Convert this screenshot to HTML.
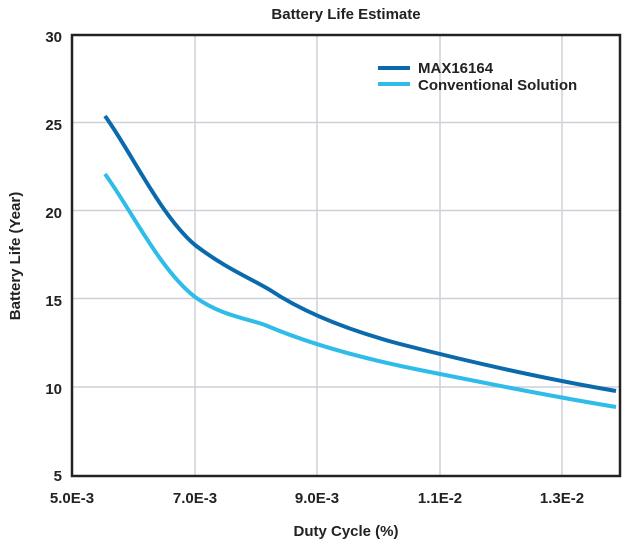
<!DOCTYPE html>
<html><head><style>body{margin:0;background:#fff}svg{display:block}text{font-family:"Liberation Sans",sans-serif;font-weight:bold;fill:#222}</style></head>
<body>
<svg width="628" height="545" viewBox="0 0 628 545">
<text x="346" y="19" font-size="15" text-anchor="middle">Battery Life Estimate</text>
<g stroke="#cfd0d8" stroke-width="1.5">
<line x1="195" y1="35" x2="195" y2="476"/><line x1="317" y1="35" x2="317" y2="476"/><line x1="440" y1="35" x2="440" y2="476"/><line x1="562" y1="35" x2="562" y2="476"/>
<line x1="72" y1="122.5" x2="620" y2="122.5"/><line x1="72" y1="210.5" x2="620" y2="210.5"/><line x1="72" y1="298.5" x2="620" y2="298.5"/><line x1="72" y1="387" x2="620" y2="387"/>
</g>
<rect x="72" y="35" width="548" height="441" fill="none" stroke="#222" stroke-width="2.5"/>
<g font-size="15" text-anchor="end">
<text x="62" y="42">30</text><text x="62" y="130">25</text><text x="62" y="218">20</text><text x="62" y="306">15</text><text x="62" y="394">10</text><text x="62" y="481">5</text>
</g>
<g font-size="15" text-anchor="middle">
<text x="72" y="503">5.0E-3</text><text x="195" y="503">7.0E-3</text><text x="317" y="503">9.0E-3</text><text x="440" y="503">1.1E-2</text><text x="562" y="503">1.3E-2</text>
</g>
<text x="346" y="536" font-size="15" text-anchor="middle">Duty Cycle (%)</text>
<text transform="translate(20,256) rotate(-90)" font-size="15" text-anchor="middle">Battery Life (Year)</text>
<path d="M105,116 C130,150 160,215 195,245 C225,268 250,278 270,290 C300,310 340,328 400,344 C470,362 540,378 616,391" fill="none" stroke="#0a6aab" stroke-width="4"/>
<path d="M105,174 C130,208 160,270 195,297 C220,315 245,318 265,325 C300,340 350,356 420,370 C490,384 550,396 616,407" fill="none" stroke="#2fbce9" stroke-width="4"/>
<line x1="378" y1="68" x2="410" y2="68" stroke="#0a6aab" stroke-width="4"/>
<line x1="378" y1="84" x2="410" y2="84" stroke="#2fbce9" stroke-width="4"/>
<text x="418" y="73" font-size="15">MAX16164</text>
<text x="418" y="90" font-size="15">Conventional Solution</text>
</svg>
</body></html>
